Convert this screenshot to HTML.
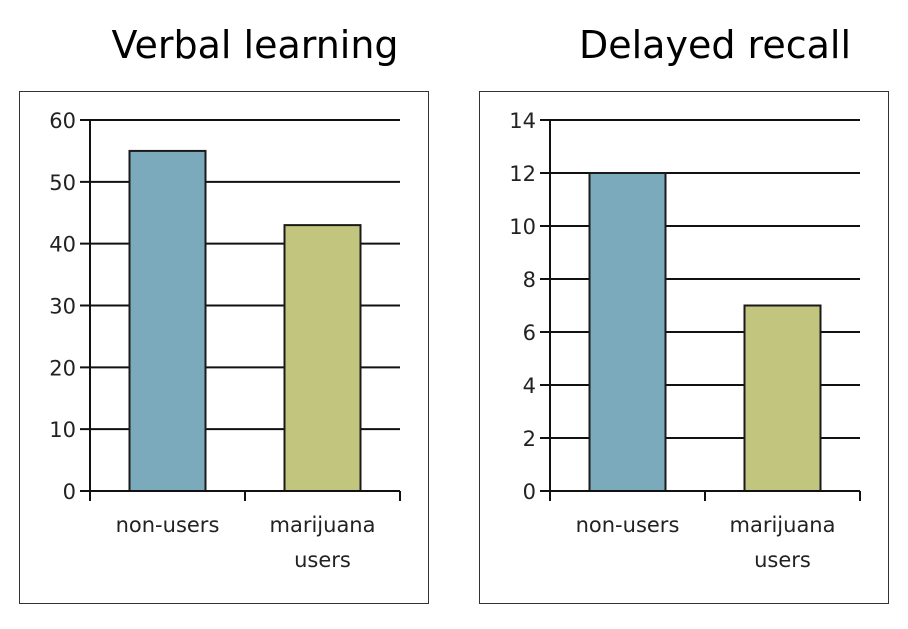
<!DOCTYPE html>
<html><head><meta charset="utf-8">
<style>
body{margin:0;background:#fff;width:908px;height:624px;overflow:hidden;font-family:"Liberation Sans","DejaVu Sans",sans-serif;}
svg text{font-family:"DejaVu Sans","Liberation Sans",sans-serif;}
</style></head>
<body>
<svg id="s" width="908" height="624"></svg>
<script>
const categories = ["non-users", "marijuana users"];
const verbalValues = [55, 43];
const verbalTicks = [0, 10, 20, 30, 40, 50, 60];
const recallValues = [12, 7];
const recallTicks = [0, 2, 4, 6, 8, 10, 12, 14];
const barColors = ["#7aaabb", "#c2c57e"];

const NS = "http://www.w3.org/2000/svg";
const svg = document.getElementById("s");
function mk(tag, attrs, parent, text){
  const e = document.createElementNS(NS, tag);
  for (const k in attrs) e.setAttribute(k, attrs[k]);
  if (text !== undefined) e.textContent = text;
  (parent || svg).appendChild(e);
  return e;
}

function panel(ox, title, values, ticks, key){
  const g = mk("g", {});
  
  
  const t = mk("text", {x: ox + 236, y: 58, "font-size": 38, "text-anchor": "middle", fill: "#000"}, g, title);
  
  
  const frame = mk("rect", {x: ox + 0.5, y: 91.5, width: 409, height: 512, fill: "none", stroke: "#333", "stroke-width": 1}, g);
  
  
  const ax = ox + 71, x1 = ox + 381, yTop = 120, yBot = 491;
  const maxV = ticks[ticks.length - 1];
  const y = v => yBot - (v / maxV) * (yBot - yTop);
  ticks.forEach(v => {
    const ln = mk("line", {x1: ax - 10, x2: x1, y1: y(v), y2: y(v), stroke: "#111", "stroke-width": 2}, g);
    
    
    const tl = mk("text", {x: ax - 14, y: y(v) + 8, "font-size": 21, "text-anchor": "end", fill: "#222"}, g, String(v));
    
    
  });
  const yl = mk("line", {x1: ax, x2: ax, y1: yTop, y2: yBot + 10, stroke: "#111", "stroke-width": 2}, g);
  
  
  const n = values.length, slot = (x1 - ax) / n, bw = 76;
  for (let i = 0; i <= n; i++){
    const tk = mk("line", {x1: ax + i*slot, x2: ax + i*slot, y1: yBot, y2: yBot + 10, stroke: "#111", "stroke-width": 2}, g);
    
    
  }
  values.forEach((v, i) => {
    const cx = ax + slot*(i + 0.5);
    const b = mk("rect", {x: cx - bw/2, y: y(v), width: bw, height: yBot - y(v), fill: barColors[i], stroke: "#1a1a1a", "stroke-width": 2}, g);
    
    
    const words = categories[i].split(" ");
    words.forEach((w, j) => {
      const lt = mk("text", {x: cx, y: 532 + j*35, "font-size": 21, "text-anchor": "middle", fill: "#222"}, g, w);
      
      
    });
  });
  const xl = mk("line", {x1: ax - 10, x2: x1, y1: yBot, y2: yBot, stroke: "#111", "stroke-width": 2}, g);
  
  
}
panel(19, "Verbal learning", verbalValues, verbalTicks, "verbal-learning");
panel(479, "Delayed recall", recallValues, recallTicks, "delayed-recall");
</script>
</body></html>
